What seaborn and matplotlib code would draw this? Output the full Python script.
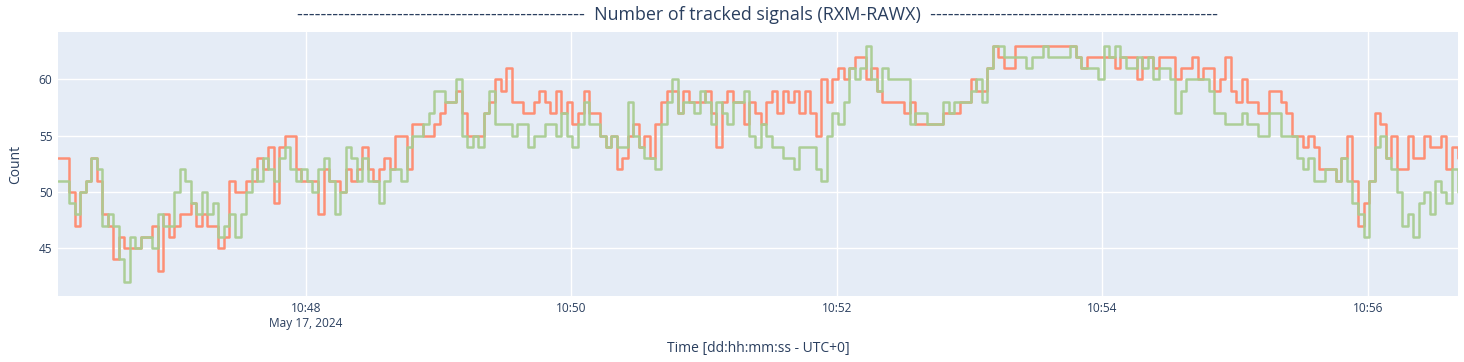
import numpy as np
import pandas as pd
import matplotlib
matplotlib.use("Agg")
import matplotlib.pyplot as plt
import seaborn as sns

# values, one sample every 2.5 s starting at 10:46:08
start_time = "2024-05-17 10:46:08"
step_ms = 2500

orange_counts = [
    53, 53, 50, 47, 50, 51, 53, 51, 48, 47,
    44, 46, 45, 45, 45, 46, 46, 47, 43, 48,
    46, 47, 48, 48, 49, 47, 48, 47, 47, 45,
    46, 51, 50, 50, 51, 51, 53, 52, 54, 49,
    54, 55, 55, 52, 51, 51, 51, 48, 52, 51,
    51, 50, 52, 51, 52, 54, 52, 51, 52, 53,
    52, 55, 55, 52, 56, 56, 55, 55, 56, 57,
    58, 58, 59, 57, 55, 55, 55, 57, 58, 60,
    59, 61, 58, 58, 57, 57, 58, 59, 58, 57,
    59, 57, 58, 56, 57, 59, 57, 57, 55, 54,
    55, 52, 53, 55, 56, 54, 55, 53, 56, 58,
    59, 59, 57, 59, 58, 58, 58, 59, 57, 54,
    58, 59, 58, 58, 56, 58, 57, 56, 58, 59,
    57, 59, 58, 59, 57, 59, 57, 55, 60, 58,
    60, 61, 60, 61, 62, 62, 60, 61, 59, 58,
    58, 58, 58, 57, 58, 56, 56, 56, 56, 56,
    57, 57, 57, 58, 58, 60, 59, 59, 61, 63,
    62, 61, 61, 63, 63, 63, 63, 63, 63, 63,
    63, 63, 63, 63, 62, 61, 62, 62, 62, 62,
    62, 61, 62, 62, 62, 60, 62, 62, 61, 62,
    62, 62, 60, 61, 61, 62, 60, 61, 61, 59,
    60, 62, 59, 58, 60, 58, 58, 57, 57, 59,
    59, 58, 57, 55, 55, 54, 55, 54, 52, 52,
    52, 51, 53, 55, 51, 47, 49, 51, 57, 56,
    53, 55, 52, 52, 55, 53, 53, 55, 54, 54,
    55, 52, 54, 53,
]
green_counts = [
    51, 51, 49, 48, 50, 51, 53, 52, 47, 48,
    47, 44, 42, 46, 45, 46, 46, 45, 48, 47,
    47, 50, 52, 51, 49, 48, 50, 48, 49, 46,
    47, 48, 46, 48, 50, 52, 51, 53, 52, 51,
    53, 54, 52, 51, 52, 51, 50, 52, 53, 51,
    48, 50, 54, 53, 51, 53, 51, 51, 49, 51,
    52, 52, 51, 54, 55, 55, 56, 57, 59, 59,
    58, 58, 60, 55, 54, 55, 54, 57, 59, 56,
    56, 56, 55, 56, 56, 54, 55, 55, 56, 56,
    55, 57, 55, 54, 56, 58, 56, 56, 55, 54,
    55, 54, 54, 58, 55, 54, 53, 53, 52, 56,
    58, 60, 57, 58, 58, 57, 59, 58, 56, 58,
    57, 56, 58, 58, 59, 55, 54, 56, 55, 54,
    54, 53, 53, 52, 54, 54, 54, 52, 51, 55,
    57, 56, 58, 61, 60, 61, 63, 60, 59, 61,
    60, 60, 60, 60, 56, 57, 57, 56, 56, 56,
    58, 57, 58, 58, 58, 59, 60, 58, 61, 63,
    63, 62, 62, 62, 62, 61, 62, 62, 63, 62,
    62, 62, 62, 63, 62, 61, 61, 61, 60, 63,
    62, 63, 62, 61, 61, 62, 61, 62, 60, 61,
    61, 60, 57, 59, 60, 60, 60, 60, 59, 57,
    57, 56, 56, 56, 57, 56, 56, 55, 55, 57,
    57, 55, 55, 55, 53, 52, 53, 51, 51, 52,
    52, 51, 53, 51, 49, 48, 46, 51, 54, 55,
    53, 52, 50, 47, 48, 46, 49, 50, 48, 51,
    50, 49, 52, 50,
]

x_ticks = ["2024-05-17 10:48", "2024-05-17 10:50", "2024-05-17 10:52",
           "2024-05-17 10:54", "2024-05-17 10:56"]
x_tick_labels = ["10:48\nMay 17, 2024", "10:50", "10:52", "10:54", "10:56"]
y_ticks = [45, 50, 55, 60]

times = pd.date_range(start_time, periods=len(orange_counts), freq=f"{step_ms}ms")
df = pd.concat([
    pd.DataFrame({"time": times, "count": orange_counts, "signal": "a"}),
    pd.DataFrame({"time": times, "count": green_counts, "signal": "b"}),
])

sns.set_theme(style="darkgrid")
plt.rcParams["font.family"] = ["Open Sans", "DejaVu Sans"]

fig = plt.figure(figsize=(14.64, 3.62), dpi=100)
ax = fig.add_axes([58 / 1464, 1 - 296 / 362, 1400 / 1464, 264 / 362])
ax.set_facecolor("#E5ECF6")

sns.lineplot(data=df, x="time", y="count", hue="signal",
             palette={"a": "#FF8A6E", "b": "#A9CD92"},
             drawstyle="steps-post", linewidth=1.8, alpha=0.95,
             legend=False, ax=ax, estimator=None)

ax.set_xlim(pd.Timestamp("2024-05-17 10:46:08"), pd.Timestamp("2024-05-17 10:56:40.7"))
ax.set_ylim(40.75, 64.2)
ax.set_xticks([pd.Timestamp(t) for t in x_ticks])
ax.set_xticklabels(x_tick_labels)
ax.set_yticks(y_ticks)

ax.grid(True, color="white", linewidth=1)
for s in ax.spines.values():
    s.set_visible(False)
ax.tick_params(axis="both", length=0, labelsize=8.6, colors="#2A3F5F", pad=4)

ax.set_xlabel("Time [dd:hh:mm:ss - UTC+0]", fontsize=10, color="#2A3F5F", labelpad=8)
ax.set_ylabel("Count", fontsize=10, color="#2A3F5F", labelpad=11)

dashes = "-" * 49
fig.text(757 / 1464, 1 - 15 / 362,
         f"{dashes}  Number of tracked signals (RXM-RAWX)  {dashes}",
         ha="center", va="center", fontsize=12.9, color="#2A3F5F")

fig.savefig("out.png", dpi=100)
